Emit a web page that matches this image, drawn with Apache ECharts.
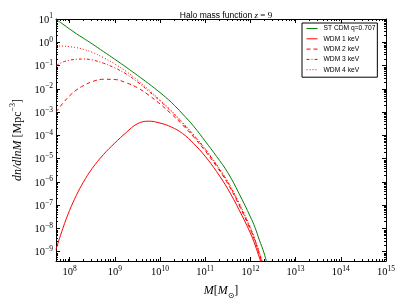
<!DOCTYPE html>
<html><head><meta charset="utf-8">
<script src="https://cdn.jsdelivr.net/npm/echarts@6/dist/echarts.min.js"></script>
<style>html,body{margin:0;padding:0;background:#fff}#c{width:407px;height:305px}</style>
</head><body><div id="c"></div>
<script>
// ---- data ----
const masses = [5.0e7, 7.08e7, 1.0e8, 1.41e8, 2.0e8, 3.16e8, 5.62e8, 1.0e9, 1.78e9, 3.16e9, 5.62e9, 1.0e10, 1.78e10, 3.16e10, 5.62e10, 1.0e11, 1.78e11, 3.16e11, 5.62e11, 1.0e12, 1.26e12, 1.58e12, 2.0e12, 2.51e12];
const cdm  = [9.55, 6.03, 3.72, 2.34, 1.51, 0.851, 0.398, 0.186, 0.0851, 0.0380, 0.0166, 6.92e-3, 2.63e-3, 8.32e-4, 2.40e-4, 5.62e-5, 1.26e-5, 2.51e-6, 3.16e-7, 3.16e-8, 1.12e-8, 3.16e-9, 8.91e-10, 1.78e-10];
const wdm1 = [1.26e-9, 1.0e-8, 6.03e-8, 2.63e-7, 9.55e-7, 3.80e-6, 1.51e-5, 4.68e-5, 1.32e-4, 3.16e-4, 4.07e-4, 3.39e-4, 2.29e-4, 1.20e-4, 4.37e-5, 1.26e-5, 2.82e-6, 5.01e-7, 6.31e-8, 6.31e-9, 2.0e-9, 5.62e-10, 1.41e-10];
const wdm2 = [1.0e-3, 2.40e-3, 5.01e-3, 8.91e-3, 1.35e-2, 2.04e-2, 2.57e-2, 2.51e-2, 1.82e-2, 1.12e-2, 5.37e-3, 2.24e-3, 8.32e-4, 2.82e-4, 8.32e-5, 2.14e-5, 4.68e-6, 8.51e-7, 1.0e-7, 8.91e-9, 2.82e-9, 7.59e-10, 1.78e-10];
const wdm3 = [0.100, 0.141, 0.170, 0.186, 0.191, 0.174, 0.126, 0.0794, 0.0437, 0.0200, 7.94e-3, 3.02e-3, 1.05e-3, 3.31e-4, 9.55e-5, 2.51e-5, 5.25e-6, 9.55e-7, 1.12e-7, 1.0e-8, 3.16e-9, 8.32e-10, 2.0e-10];
const wdm4 = [0.692, 0.684, 0.646, 0.589, 0.501, 0.372, 0.219, 0.117, 0.0562, 0.0240, 9.12e-3, 3.31e-3, 1.15e-3, 3.63e-4, 1.05e-4, 2.69e-5, 5.75e-6, 1.05e-6, 1.26e-7, 1.12e-8, 3.55e-9, 9.33e-10, 2.24e-10];
const seriesNames = ['ST CDM q=0.707', 'WDM 1 keV', 'WDM 2 keV', 'WDM 3 keV', 'WDM 4 keV'];
const xRange = [5e7, 1e15];
const yRange = [4e-10, 10];

const pairs = ys => ys.map((y, i) => [masses[i], y]);
const SERIF = "'Liberation Serif', 'DejaVu Serif', serif";
const SANS = "'Liberation Sans', Arial, sans-serif";

function supText(r) { return '{b|10}{s|' + (r < 0 ? '\u2212' + (-r) : r) + '}'; }
function powLabelLog(v) {
  const e = Math.log10(v), r = Math.round(e);
  if (Math.abs(e - r) > 1e-6) return '';
  return supText(r);
}
function powLabelExp(v) {
  const r = Math.round(v);
  if (Math.abs(v - r) > 1e-6) return '';
  return supText(r);
}
const labelRich = {
  b: {fontSize: 10.5, fontFamily: SERIF, color: '#000', lineHeight: 13, verticalAlign: 'bottom'},
  s: {fontSize: 7.5, fontFamily: SERIF, color: '#000', lineHeight: 8, verticalAlign: 'top'}
};
const tickInside = {show: true, inside: true, length: 4, lineStyle: {color: '#000', width: 1}};
const axLine = {show: true, onZero: false, lineStyle: {color: '#000', width: 1}};

function mkLine(name, data, color, type) {
  return {
    name, type: 'line', data: pairs(data), showSymbol: false, symbol: 'none',
    smooth: 0.4, clip: true, animation: false, xAxisIndex: 0, yAxisIndex: 0,
    lineStyle: {color, width: 1, type}, itemStyle: {color}
  };
}

const chart = echarts.init(document.getElementById('c'), null, {renderer: 'canvas'});
const option = {
  animation: false,
  backgroundColor: '#fff',
  title: {
    text: '{a|Halo mass function }{m|z}{a| }{n|= 9}',
    left: 221, top: 6, textAlign: 'center',
    textStyle: {fontWeight: 'normal', rich: {
      a: {fontSize: 8.5, fontFamily: SANS, color: '#000', fontWeight: 'normal'},
      m: {fontSize: 9, fontFamily: SERIF, fontStyle: 'italic', color: '#000', fontWeight: 'normal'},
      n: {fontSize: 9, fontFamily: SERIF, color: '#000', fontWeight: 'normal'}
    }}
  },
  grid: {left: 56, right: 21, top: 19, bottom: 43, containLabel: false},
  legend: {
    orient: 'vertical', left: 302, top: 23,
    backgroundColor: '#fff', borderColor: '#000', borderWidth: 1, borderRadius: 0,
    padding: [2, 2, 4, 4], itemGap: 3.3, itemWidth: 11, itemHeight: 7,
    itemStyle: {opacity: 0}, lineStyle: {width: 1},
    textStyle: {fontSize: 6.7, fontFamily: SANS, color: '#000', padding: [0, 0, 0, 1]},
    data: seriesNames
  },
  xAxis: [{
    type: 'log', logBase: 10, min: xRange[0], max: xRange[1],
    name: '{i|M}{r|[}{i|M}{u|\u2299}{r|]}', nameLocation: 'middle', nameGap: 24,
    nameTextStyle: {rich: {
      i: {fontSize: 12, fontFamily: SERIF, fontStyle: 'italic', color: '#000', lineHeight: 15, verticalAlign: 'top'},
      r: {fontSize: 12, fontFamily: SERIF, color: '#000', lineHeight: 15, verticalAlign: 'top'},
      u: {fontSize: 8, fontFamily: "'DejaVu Sans', sans-serif", color: '#000', lineHeight: 15, verticalAlign: 'bottom'}
    }},
    axisLine: axLine, axisTick: tickInside, splitLine: {show: false},
    axisLabel: {formatter: powLabelLog, rich: labelRich, margin: 4, showMinLabel: false}
  }, {
    type: 'log', logBase: 10, min: xRange[0], max: xRange[1], position: 'top',
    axisLine: axLine, axisTick: tickInside, splitLine: {show: false}, axisLabel: {show: false}
  }],
  yAxis: [{
    // data axis (log scale) – the lines are drawn against this one
    type: 'log', logBase: 10, min: yRange[0], max: yRange[1], position: 'left',
    axisLine: axLine, axisTick: {show: false}, splitLine: {show: false}, axisLabel: {show: false}
  }, {
    // decade ticks and labels (same extent, expressed as exponents)
    type: 'value', min: Math.log10(yRange[0]), max: Math.log10(yRange[1]), splitNumber: 10, position: 'left',
    name: '{i|dn/dlnM }{r|[Mpc}{s|\u22123}{r|]}', nameLocation: 'middle', nameGap: 31, nameRotate: 90,
    nameTextStyle: {rich: {
      i: {fontSize: 12, fontFamily: SERIF, fontStyle: 'italic', color: '#000', lineHeight: 15, verticalAlign: 'bottom'},
      r: {fontSize: 12, fontFamily: SERIF, color: '#000', lineHeight: 15, verticalAlign: 'bottom'},
      s: {fontSize: 8, fontFamily: SERIF, color: '#000', lineHeight: 9, verticalAlign: 'top'}
    }},
    axisLine: {show: false, onZero: false}, axisTick: tickInside, splitLine: {show: false},
    axisLabel: {formatter: powLabelExp, rich: labelRich, margin: 3, showMinLabel: false}
  }, {
    type: 'value', min: Math.log10(yRange[0]), max: Math.log10(yRange[1]), splitNumber: 10, position: 'right',
    axisLine: axLine, axisTick: tickInside, splitLine: {show: false}, axisLabel: {show: false}
  }],
  series: [
    mkLine(seriesNames[0], cdm, '#008000', 'solid'),
    mkLine(seriesNames[1], wdm1, '#ff0000', 'solid'),
    mkLine(seriesNames[2], wdm2, '#ff0000', [4, 3]),
    mkLine(seriesNames[3], wdm3, '#ff0000', [3, 2, 1, 2]),
    mkLine(seriesNames[4], wdm4, '#ff0000', [1, 2])
  ]
};
chart.setOption(option);

// matplotlib-style minor ticks (2..9 x 10^n) on all four sides, placed through the axis scales
const g = [];
const x0 = chart.convertToPixel({xAxisIndex: 0}, xRange[0]);
const x1 = chart.convertToPixel({xAxisIndex: 0}, xRange[1]);
const yb = chart.convertToPixel({yAxisIndex: 0}, yRange[0]);
const yt = chart.convertToPixel({yAxisIndex: 0}, yRange[1]);
for (let d = 7; d < 15; d++) for (let k = 2; k <= 9; k++) {
  const v = k * Math.pow(10, d);
  if (v <= xRange[0] || v >= xRange[1]) continue;
  const px = Math.round(chart.convertToPixel({xAxisIndex: 0}, v)) + 0.5;
  g.push({type: 'line', shape: {x1: px, y1: yb, x2: px, y2: yb - 2}, style: {stroke: '#000', lineWidth: 1}, silent: true});
  g.push({type: 'line', shape: {x1: px, y1: yt, x2: px, y2: yt + 2}, style: {stroke: '#000', lineWidth: 1}, silent: true});
}
for (let d = -10; d < 1; d++) for (let k = 2; k <= 9; k++) {
  const v = k * Math.pow(10, d);
  if (v <= yRange[0] || v >= yRange[1]) continue;
  const py = Math.round(chart.convertToPixel({yAxisIndex: 0}, v)) + 0.5;
  g.push({type: 'line', shape: {x1: x0, y1: py, x2: x0 + 2, y2: py}, style: {stroke: '#000', lineWidth: 1}, silent: true});
  g.push({type: 'line', shape: {x1: x1, y1: py, x2: x1 - 2, y2: py}, style: {stroke: '#000', lineWidth: 1}, silent: true});
}
chart.setOption({graphic: g});
</script></body></html>
